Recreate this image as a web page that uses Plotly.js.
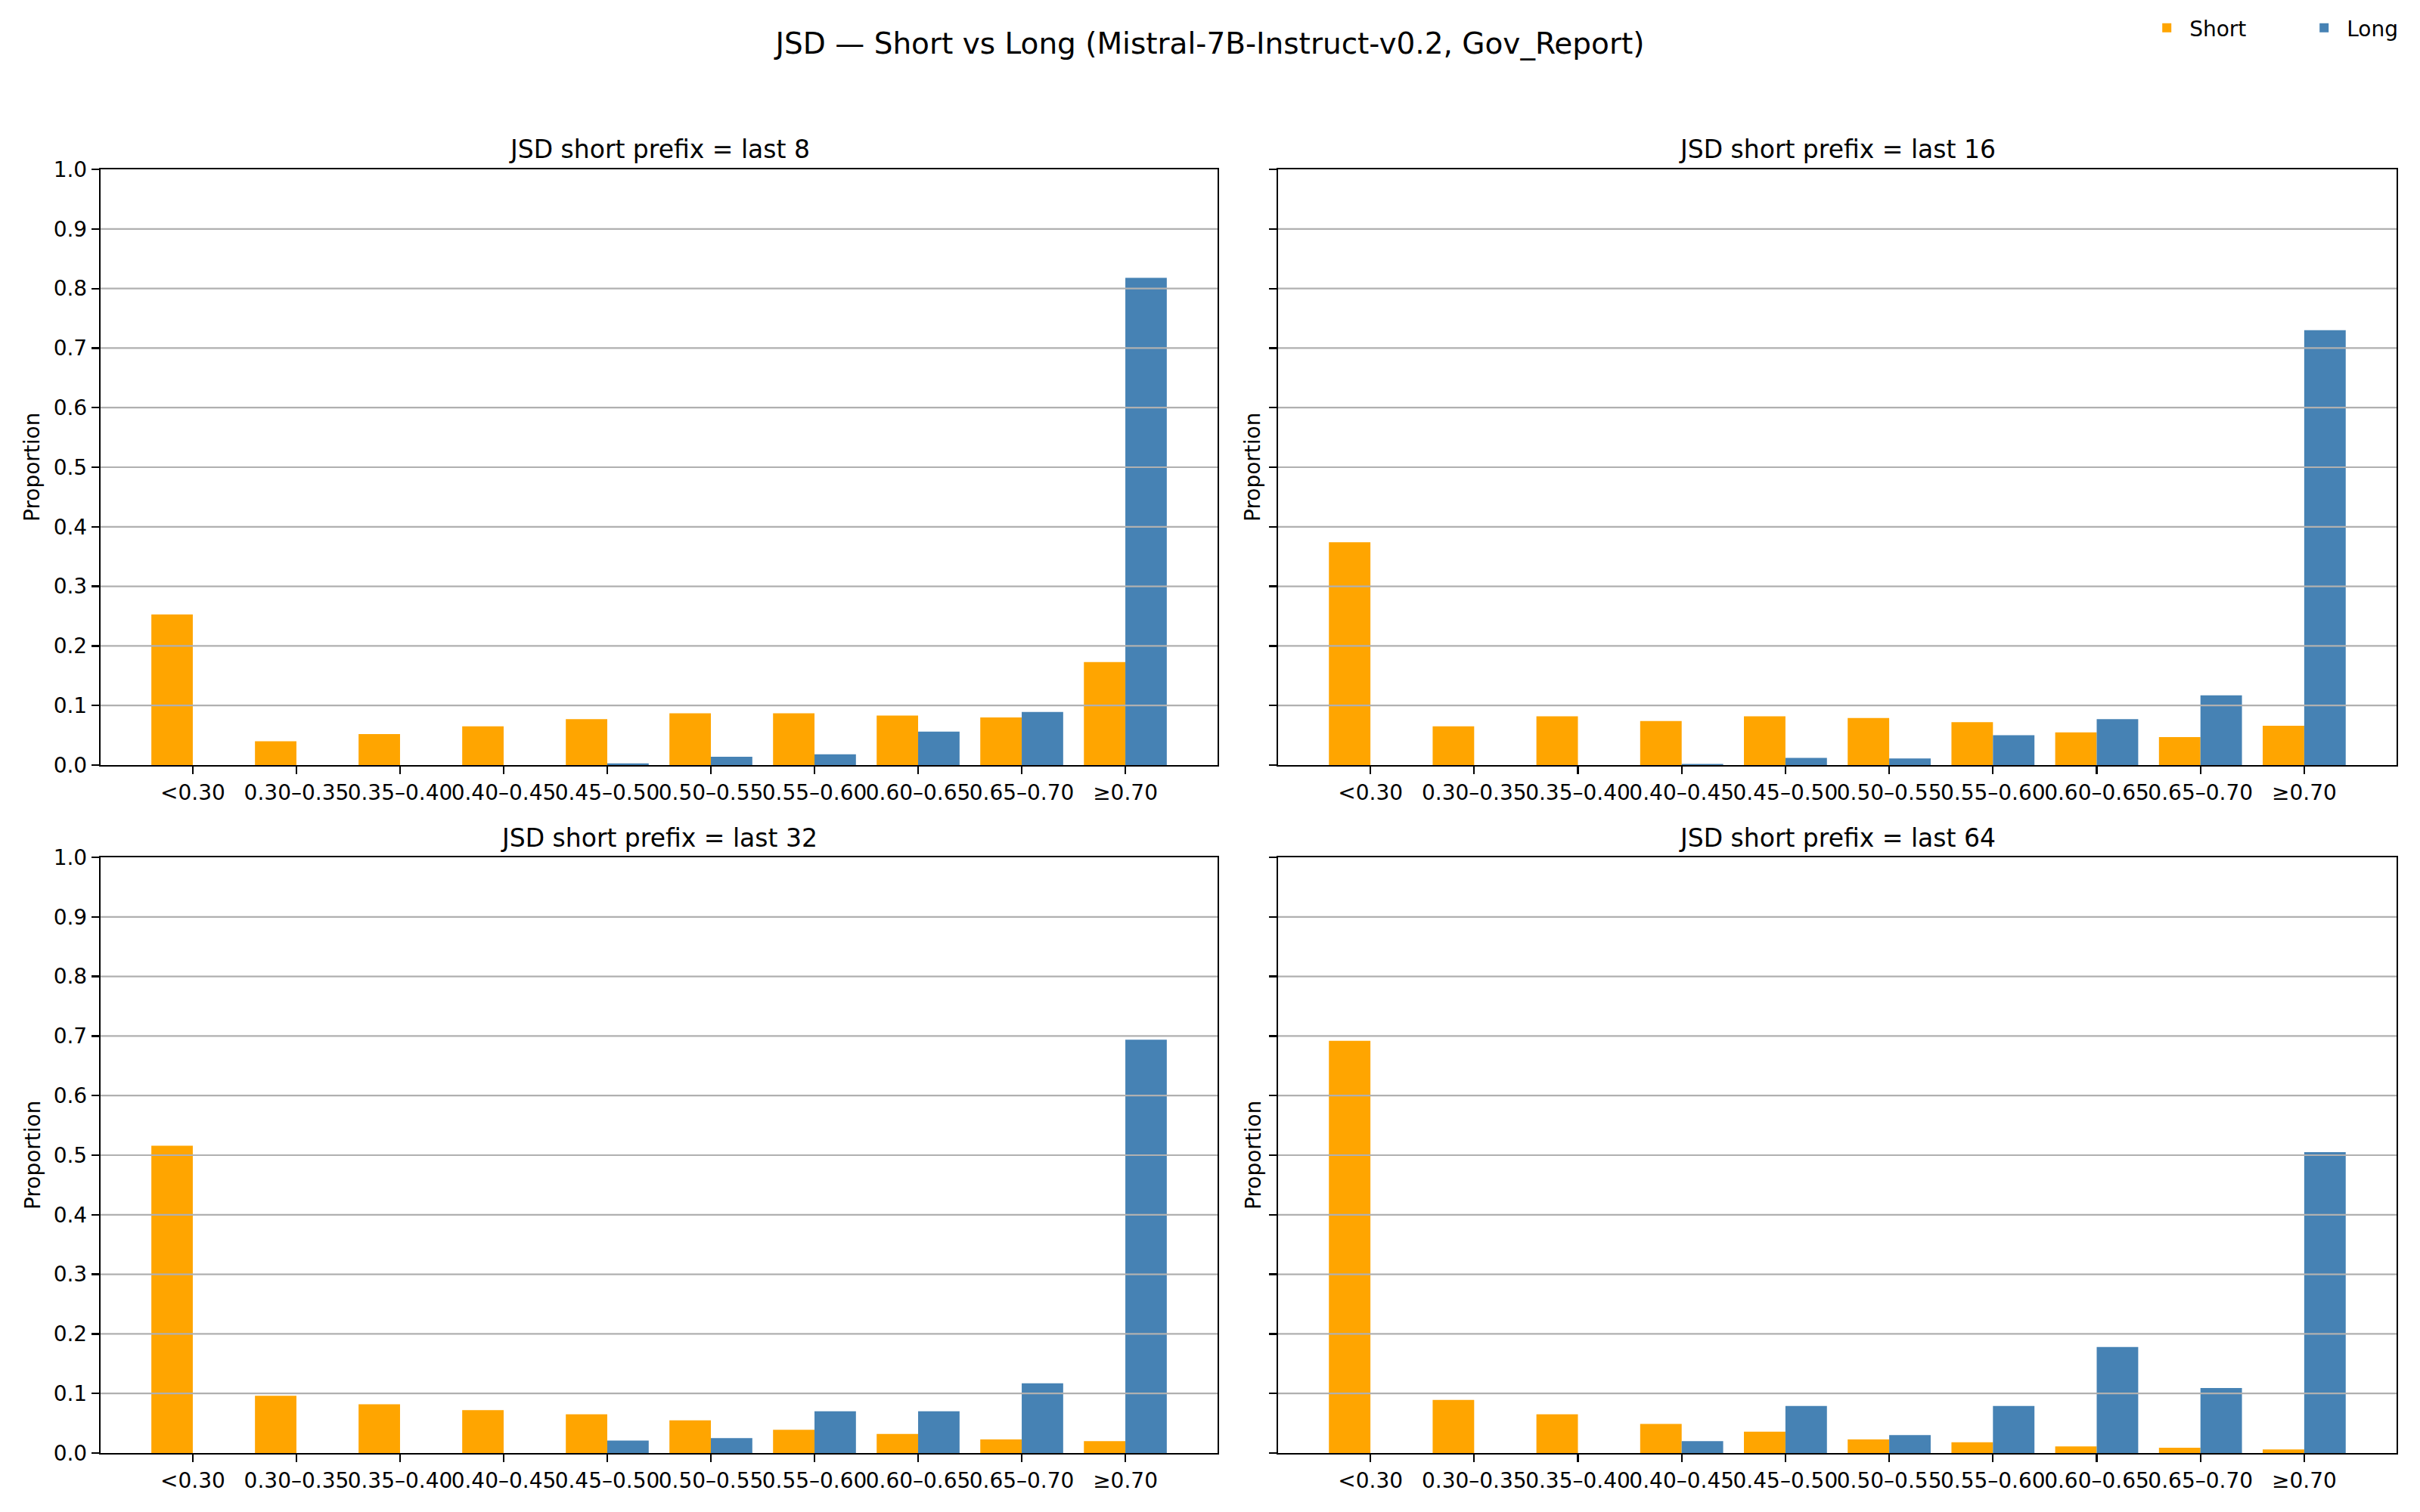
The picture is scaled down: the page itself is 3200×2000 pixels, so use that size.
<!DOCTYPE html>
<html>
<head>
<meta charset="utf-8">
<script src="https://cdn.plot.ly/plotly-3.0.1.min.js"></script>
<style>
  html, body { margin: 0; padding: 0; background: #ffffff; }
  #chart { width: 3200px; height: 2000px; }
</style>
</head>
<body>
<div id="chart"></div>
<script>
// ---------------- data ----------------
const categories = ["<0.30", "0.30–0.35", "0.35–0.40", "0.40–0.45", "0.45–0.50",
                    "0.50–0.55", "0.55–0.60", "0.60–0.65", "0.65–0.70", "≥0.70"];
const prefixLengths = [8, 16, 32, 64];

const short8  = [0.253, 0.040, 0.052, 0.065, 0.077, 0.087, 0.087, 0.083, 0.080, 0.173];
const long8   = [0.000, 0.000, 0.000, 0.000, 0.003, 0.014, 0.018, 0.056, 0.089, 0.818];
const short16 = [0.374, 0.065, 0.082, 0.074, 0.082, 0.079, 0.072, 0.055, 0.047, 0.066];
const long16  = [0.000, 0.000, 0.000, 0.002, 0.012, 0.011, 0.050, 0.077, 0.117, 0.730];
const short32 = [0.516, 0.096, 0.082, 0.072, 0.065, 0.055, 0.039, 0.032, 0.023, 0.020];
const long32  = [0.000, 0.000, 0.000, 0.000, 0.021, 0.025, 0.070, 0.070, 0.117, 0.694];
const short64 = [0.692, 0.089, 0.065, 0.049, 0.036, 0.023, 0.018, 0.011, 0.009, 0.006];
const long64  = [0.000, 0.000, 0.000, 0.020, 0.079, 0.030, 0.079, 0.178, 0.109, 0.505];

const yTickVals = [0.0, 0.1, 0.2, 0.3, 0.4, 0.5, 0.6, 0.7, 0.8, 0.9, 1.0];

const shortSeries = [short8, short16, short32, short64];
const longSeries  = [long8, long16, long32, long64];

// ---------------- style ----------------
const W = 3200, H = 2000;
const FONT = "DejaVu Sans, Liberation Sans, sans-serif";
const ORANGE = "#FFA500";
const BLUE = "#4682B4";
const GRID = "#b0b0b0";

// panel boxes in pixels [left, right, top, bottom]
const boxes = [
  [133, 1610, 224, 1012],
  [1690, 3169, 224, 1012],
  [133, 1610, 1134, 1922],
  [1690, 3169, 1134, 1922]
];

const traces = [];
const layout = {
  width: W, height: H,
  margin: {l: 0, r: 0, t: 0, b: 0, autoexpand: false},
  paper_bgcolor: "#ffffff",
  plot_bgcolor: "#ffffff",
  font: {family: FONT, size: 28, color: "#000000"},
  barmode: "group",
  bargap: 0.2,
  bargroupgap: 0,
  showlegend: true,
  legend: {
    orientation: "h",
    x: 0.886, xanchor: "left",
    y: 0.994, yanchor: "top",
    font: {family: FONT, size: 28, color: "#000000"},
    bgcolor: "rgba(0,0,0,0)",
    itemwidth: 50,
    entrywidth: 143,
    entrywidthmode: "pixels",
    tracegroupgap: 0
  },
  title: {
    text: "JSD — Short vs Long (Mistral-7B-Instruct-v0.2, Gov_Report)",
    font: {family: FONT, size: 39, color: "#000000"},
    x: 0.5, xanchor: "center",
    y: 1 - 57 / H, yanchor: "middle",
    xref: "paper", yref: "paper"
  },
  annotations: [],
  shapes: []
};

prefixLengths.forEach((p, i) => {
  const n = i + 1;
  const xa = "x" + (n === 1 ? "" : n);
  const ya = "y" + (n === 1 ? "" : n);
  const [l, r, t, b] = boxes[i];
  const xdom = [l / W, r / W];
  const ydom = [1 - b / H, 1 - t / H];

  traces.push({
    type: "bar", name: "Short", x: categories, y: shortSeries[i],
    xaxis: xa, yaxis: ya, marker: {color: ORANGE, line: {width: 0}},
    legendgroup: "short", showlegend: i === 0, hoverinfo: "x+y"
  });
  traces.push({
    type: "bar", name: "Long", x: categories, y: longSeries[i],
    xaxis: xa, yaxis: ya, marker: {color: BLUE, line: {width: 0}},
    legendgroup: "long", showlegend: i === 0, hoverinfo: "x+y"
  });

  layout["xaxis" + (n === 1 ? "" : n)] = {
    domain: xdom, anchor: ya,
    type: "category",
    range: [-0.89, 9.89],
    tickmode: "linear", tick0: 0, dtick: 1,
    tickangle: 0,
    ticks: "outside", ticklen: 10, tickwidth: 2.2, tickcolor: "#000000",
    showline: true, mirror: true, linecolor: "#000000", linewidth: 2.2,
    showgrid: false, zeroline: false,
    tickfont: {family: FONT, size: 28, color: "#000000"},
    fixedrange: true
  };
  layout["yaxis" + (n === 1 ? "" : n)] = {
    domain: ydom, anchor: xa,
    range: [0, 1],
    tickmode: "array", tickvals: yTickVals,
    tickformat: ".1f",
    showticklabels: (i % 2 === 0),
    ticks: "outside", ticklen: 10, tickwidth: 2.2, tickcolor: "#000000",
    showline: true, mirror: true, linecolor: "#000000", linewidth: 2.2,
    showgrid: false, zeroline: false,
    tickfont: {family: FONT, size: 28, color: "#000000"},
    fixedrange: true
  };

  // gridlines above bars (matplotlib default draws grid over patches)
  yTickVals.forEach(v => {
    if (v <= 0 || v >= 1) return;
    layout.shapes.push({
      type: "line", layer: "above",
      xref: xa + " domain", yref: ya,
      x0: 0, x1: 1, y0: v, y1: v,
      line: {color: GRID, width: 2.2}
    });
  });

  // subplot title
  layout.annotations.push({
    text: "JSD short prefix = last " + p,
    xref: "paper", yref: "paper",
    x: (l + r) / 2 / W, y: 1 - (t - 26) / H,
    xanchor: "center", yanchor: "middle",
    showarrow: false,
    font: {family: FONT, size: 33, color: "#000000"}
  });

  // y-axis label
  const yLabelX = (i % 2 === 0) ? 43 : 1657;
  layout.annotations.push({
    text: "Proportion",
    xref: "paper", yref: "paper",
    x: yLabelX / W, y: 1 - ((t + b) / 2) / H,
    xanchor: "center", yanchor: "middle",
    textangle: -90,
    showarrow: false,
    font: {family: FONT, size: 28, color: "#000000"}
  });
});

Plotly.newPlot("chart", traces, layout, {displayModeBar: false, staticPlot: true});
</script>
</body>
</html>
